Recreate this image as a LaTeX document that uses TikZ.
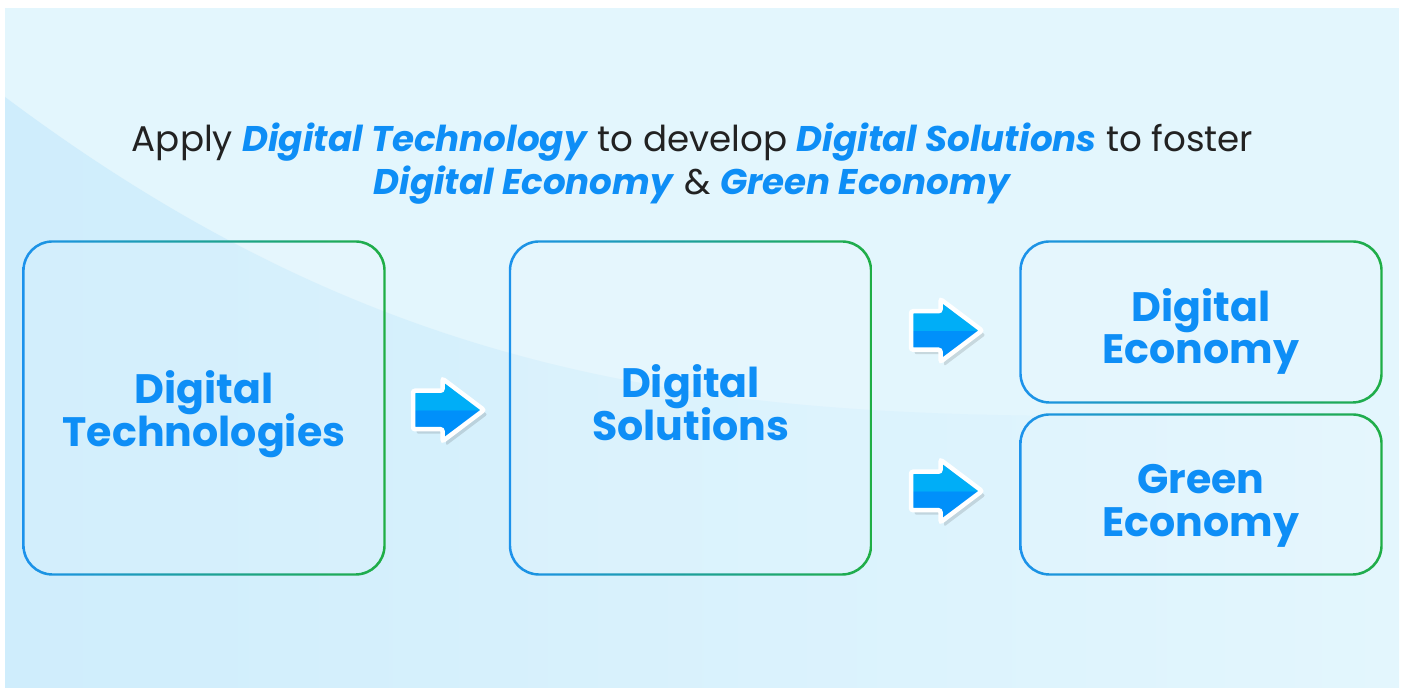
\documentclass[tikz,border=0pt]{standalone}
\usepackage{fontspec}
\setmainfont{Poppins}
\usetikzlibrary{calc,positioning,shapes.arrows,shadows}

\definecolor{bglight}{HTML}{E3F6FD}
\definecolor{bgdark}{HTML}{CFEDFC}
\definecolor{edgeblue}{HTML}{1C92EC}
\definecolor{edgegreen}{HTML}{1FAE45}
\definecolor{boxtext}{HTML}{0E8EF6}
\definecolor{titletext}{HTML}{222222}
\definecolor{arrowlight}{HTML}{00AEF7}
\definecolor{arrowdark}{HTML}{0090FA}

\setlength{\lineskiplimit}{-20pt}

\pgfdeclareverticalshading{arrowsplit}{100bp}{color(0bp)=(arrowdark); color(49.9bp)=(arrowdark); color(50.1bp)=(arrowlight); color(100bp)=(arrowlight)}

\def\gradborder(#1){\shade[even odd rule, left color=edgeblue, right color=edgegreen, rounded corners=0.3cm] (#1.south west) rectangle (#1.north east) [rounded corners=0.28cm] ($(#1.south west)+(0.024,0.024)$) rectangle ($(#1.north east)-(0.024,0.024)$);}

\tikzset{
	stage/.style={minimum width=3.62cm, inner sep=0pt, rounded corners=0.3cm, fill=white, fill opacity=0.08},
	stagetext/.style={inner sep=0pt, text=boxtext, align=center, font=\bfseries\fontsize{11.7}{12.2}\selectfont},
	flowarrow/.style={single arrow, anchor=tail, outer sep=0pt, shading=arrowsplit, draw=white, line width=0.045cm, minimum height=0.71cm, inner xsep=0pt, inner ysep=0.17cm, single arrow head extend=0.12cm, single arrow tip angle=74, rounded corners=0.6pt, drop shadow={shadow xshift=0.035cm, shadow yshift=-0.045cm, fill=black, opacity=0.12}}
}

\begin{document}
\begin{tikzpicture}
			%%%%% START %%%%%
			
			\useasboundingbox (0, 0) rectangle (14.03, 6.88);
			\fill[bglight] (0.05, 0) rectangle (13.99, 6.80);
			\shade[left color=bgdark, right color=bglight] (0.05, 5.91) .. controls (3.8, 3.1) and (7, 2.72) .. (11, 2.72) -- (13.99, 2.72) -- (13.99, 0) -- (0.05, 0) -- cycle;
			
			\node[align=center, text=titletext, font=\fontsize{10.15}{12.2}\selectfont] (title) at (6.925, 5.24) {Apply \textcolor{boxtext}{\textbf{\textit{Digital Technology}}} to develop \textcolor{boxtext}{\textbf{\textit{Digital Solutions}}} to foster\\ \textcolor{boxtext}{\textbf{\textit{Digital Economy}}} \& \textcolor{boxtext}{\textbf{\textit{Green Economy}}}};
			
			\node[stage, minimum height=3.34cm] (tech) at (2.04, 2.80) {};
			\node[stage, minimum height=3.34cm] (sol) at (6.905, 2.80) {};
			\node[stage, minimum height=1.62cm] (digeco) at (12.01, 3.66) {};
			\node[stage, minimum height=1.61cm] (greeneco) at (12.01, 1.935) {};
			
			\gradborder(tech)
			\gradborder(sol)
			\gradborder(digeco)
			\gradborder(greeneco)
			
			\node[stagetext] (techtext) at ([yshift=-0.065cm]tech.center) {Digital\\Technologies};
			\node[stagetext] (soltext) at ([yshift=0.05cm]sol.center) {Digital\\Solutions};
			\node[stagetext] (digecotext) at ([yshift=-0.095cm]digeco.center) {Digital\\Economy};
			\node[stagetext] (greenecotext) at ([yshift=-0.11cm]greeneco.center) {Green\\Economy};
			
			\node[flowarrow] (a1) at (4.13, 2.78) {};
			\node[flowarrow] (a2) at (9.11, 3.575) {};
			\node[flowarrow] (a3) at (9.11, 1.97) {};
			
			%%%%% END %%%%%
\end{tikzpicture}
\end{document}
